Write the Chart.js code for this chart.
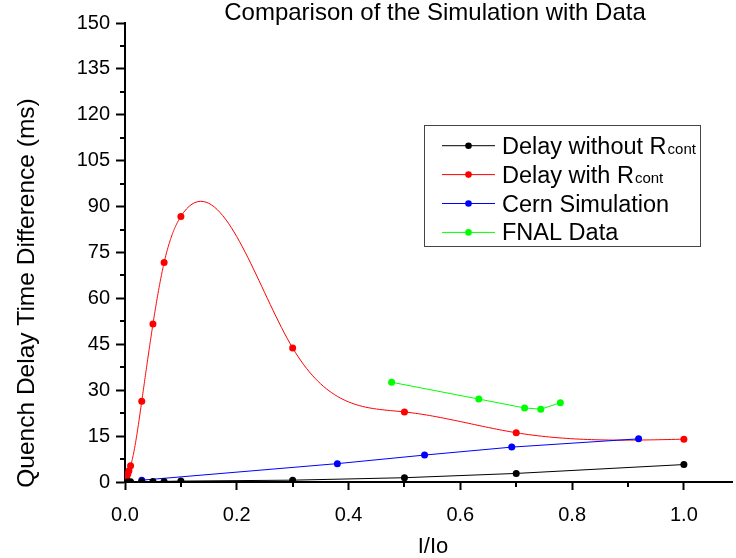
<!DOCTYPE html>
<html lang="en">
<head>
<meta charset="UTF-8">
<title>Comparison of the Simulation with Data</title>
<script src="https://cdn.jsdelivr.net/npm/chart.js@4"></script>
<style>
  html, body { margin: 0; padding: 0; background: #fff; }
  #wrap { width: 736px; height: 558px; position: relative; }
</style>
</head>
<body>
<div id="wrap"><canvas id="chart"></canvas></div>
<script>
const FONT = '"Liberation Sans", Arial, sans-serif'

// values
const noRcontX   = [0.005, 0.01, 0.03, 0.05, 0.07, 0.1, 0.3, 0.5, 0.7, 1.0]
const noRcontY   = [0.02, 0.05, 0.1, 0.15, 0.2, 0.3, 0.6, 1.4, 2.8, 5.7]
const withRcontX = [0.001, 0.003, 0.005, 0.007, 0.01, 0.03, 0.05, 0.07, 0.1, 0.3, 0.5, 0.7, 1.0]
const withRcontY = [0.3, 1.5, 2.6, 3.7, 5.3, 26.4, 51.6, 71.7, 86.8, 43.8, 22.9, 16.1, 14.0]
const cernX      = [0.03, 0.38, 0.536, 0.692, 0.919]
const cernY      = [0.6, 6.0, 8.8, 11.4, 14.1]
const fnalX      = [0.477, 0.633, 0.715, 0.744, 0.779]
const fnalY      = [32.6, 27.1, 24.2, 23.8, 25.9]

const xTicks = [0, 0.2, 0.4, 0.6, 0.8, 1.0]
const xMinorTicks = [0.1, 0.3, 0.5, 0.7, 0.9]
const yTicks = [0, 15, 30, 45, 60, 75, 90, 105, 120, 135, 150]
const yMinorTicks = [7.5, 22.5, 37.5, 52.5, 67.5, 82.5, 97.5, 112.5, 127.5, 142.5]

const legendNames  = ["Delay without R", "Delay with R", "Cern Simulation", "FNAL Data"]
const legendSubs   = ["cont", "cont", "", ""]
const seriesColors = ["#000000", "#ff0000", "#0000ff", "#00ff00"]

const chartTitle = "Comparison of the Simulation with Data"
const xTitle = "I/Io"
const yTitle = "Quench Delay Time Difference (ms)"

const pts = (xs, ys) => xs.map((x, i) => ({ x, y: ys[i] }))

// natural cubic spline through the points (Origin's "spline" connect)
function naturalSpline(xs, ys) {
  const n = xs.length
  const h = [], al = [], l = [1], mu = [0], z = [0]
  const b = [], c = new Array(n).fill(0), d = []
  for (let i = 0; i < n - 1; i++) h[i] = xs[i + 1] - xs[i]
  for (let i = 1; i < n - 1; i++)
    al[i] = 3 / h[i] * (ys[i + 1] - ys[i]) - 3 / h[i - 1] * (ys[i] - ys[i - 1])
  for (let i = 1; i < n - 1; i++) {
    l[i] = 2 * (xs[i + 1] - xs[i - 1]) - h[i - 1] * mu[i - 1]
    mu[i] = h[i] / l[i]
    z[i] = (al[i] - h[i - 1] * z[i - 1]) / l[i]
  }
  for (let j = n - 2; j >= 1; j--) c[j] = z[j] - mu[j] * c[j + 1]
  c[0] = 0
  for (let j = 0; j < n - 1; j++) {
    b[j] = (ys[j + 1] - ys[j]) / h[j] - h[j] * (c[j + 1] + 2 * c[j]) / 3
    d[j] = (c[j + 1] - c[j]) / (3 * h[j])
  }
  return { b, c, d }
}

const splinePlugin = {
  id: "splineLine",
  beforeDatasetsDraw(chart) {
    const { ctx, chartArea, scales } = chart
    const { b, c, d } = naturalSpline(withRcontX, withRcontY)
    ctx.save()
    ctx.beginPath()
    ctx.rect(chartArea.left, chartArea.top, chartArea.right - chartArea.left, chartArea.bottom - chartArea.top)
    ctx.clip()
    ctx.beginPath()
    ctx.strokeStyle = seriesColors[1]
    ctx.lineWidth = 1
    for (let j = 0; j < withRcontX.length - 1; j++) {
      const x0 = withRcontX[j], x1 = withRcontX[j + 1]
      const steps = 40
      for (let k = 0; k <= steps; k++) {
        const x = x0 + (x1 - x0) * k / steps
        const dx = x - x0
        const y = withRcontY[j] + b[j] * dx + c[j] * dx * dx + d[j] * dx * dx * dx
        const px = scales.x.getPixelForValue(x), py = scales.y.getPixelForValue(y)
        if (j === 0 && k === 0) ctx.moveTo(px, py)
        else ctx.lineTo(px, py)
      }
    }
    ctx.stroke()
    ctx.restore()
  }
}

const decorPlugin = {
  id: "decor",
  afterDraw(chart) {
    const { ctx, scales, chartArea } = chart
    ctx.save()
    // minor ticks
    ctx.strokeStyle = "#000"
    ctx.lineWidth = 2
    xMinorTicks.forEach(v => {
      const px = Math.round(scales.x.getPixelForValue(v))
      ctx.beginPath(); ctx.moveTo(px, chartArea.bottom); ctx.lineTo(px, chartArea.bottom + 5); ctx.stroke()
    })
    yMinorTicks.forEach(v => {
      const py = Math.round(scales.y.getPixelForValue(v))
      ctx.beginPath(); ctx.moveTo(chartArea.left, py); ctx.lineTo(chartArea.left - 5, py); ctx.stroke()
    })

    // titles
    ctx.fillStyle = "#000"
    ctx.textAlign = "center"
    ctx.textBaseline = "alphabetic"
    ctx.font = "24px " + FONT
    ctx.fillText(chartTitle, 435, 20)
    ctx.font = "22px " + FONT
    ctx.fillText(xTitle, 433, 553)
    ctx.save()
    ctx.translate(34, 293)
    ctx.rotate(-Math.PI / 2)
    ctx.font = "24.5px " + FONT
    ctx.fillText(yTitle, 0, 0)
    ctx.restore()

    // legend
    ctx.strokeStyle = "#444"
    ctx.lineWidth = 1
    ctx.strokeRect(424.5, 125.5, 276, 121)
    legendNames.forEach((name, i) => {
      const y = 145.7 + i * 28.9
      ctx.strokeStyle = seriesColors[i]
      ctx.lineWidth = 1
      ctx.beginPath(); ctx.moveTo(442, y); ctx.lineTo(495, y); ctx.stroke()
      ctx.fillStyle = seriesColors[i]
      ctx.beginPath(); ctx.arc(468.5, y, 3.3, 0, Math.PI * 2); ctx.fill()
      ctx.fillStyle = "#000"
      ctx.textAlign = "left"
      ctx.textBaseline = "alphabetic"
      ctx.font = "23.5px " + FONT
      ctx.fillText(name, 502, y + 8)
      if (legendSubs[i]) {
        const w = ctx.measureText(name).width
        ctx.font = "15px " + FONT
        ctx.fillText(legendSubs[i], 502 + w + 1, y + 8)
      }
    })
    ctx.restore()
  }
}

const lineSet = (label, xs, ys, color, showLine) => ({
  label,
  data: pts(xs, ys),
  borderColor: color,
  backgroundColor: color,
  borderWidth: 1,
  pointRadius: 3.5,
  pointBorderWidth: 0,
  pointHoverRadius: 3.5,
  showLine,
  tension: 0
})

new Chart(document.getElementById("chart"), {
  type: "scatter",
  data: {
    datasets: [
      lineSet(legendNames[0], noRcontX, noRcontY, seriesColors[0], true),
      lineSet(legendNames[1], withRcontX, withRcontY, seriesColors[1], false),
      lineSet(legendNames[2], cernX, cernY, seriesColors[2], true),
      lineSet(legendNames[3], fnalX, fnalY, seriesColors[3], true)
    ]
  },
  options: {
    responsive: true,
    maintainAspectRatio: false,
    animation: false,
    layout: { padding: { top: 23, right: 0, bottom: 0, left: 0 } },
    plugins: {
      legend: { display: false },
      title: { display: false },
      tooltip: { enabled: false }
    },
    scales: {
      x: {
        type: "linear",
        min: 0,
        max: 1.087,
        afterBuildTicks: s => { s.ticks = xTicks.map(v => ({ value: v })) },
        afterFit: s => { s.height = 76 },
        grid: { drawOnChartArea: false, drawTicks: true, tickLength: 8, tickWidth: 2, tickColor: "#000" },
        border: { display: true, color: "#000", width: 2 },
        ticks: {
          color: "#000",
          font: { family: FONT, size: 20 },
          padding: 13,
          maxRotation: 0,
          callback: v => Number(v).toFixed(1)
        }
      },
      y: {
        type: "linear",
        min: 0,
        max: 150,
        afterBuildTicks: s => { s.ticks = yTicks.map(v => ({ value: v })) },
        afterFit: s => { s.width = 125 },
        grid: { drawOnChartArea: false, drawTicks: true, tickLength: 9, tickWidth: 2, tickColor: "#000" },
        border: { display: true, color: "#000", width: 2 },
        ticks: {
          color: "#000",
          font: { family: FONT, size: 20 },
          padding: 6,
          callback: v => String(v)
        }
      }
    }
  },
  plugins: [splinePlugin, decorPlugin]
})
</script>
</body>
</html>
